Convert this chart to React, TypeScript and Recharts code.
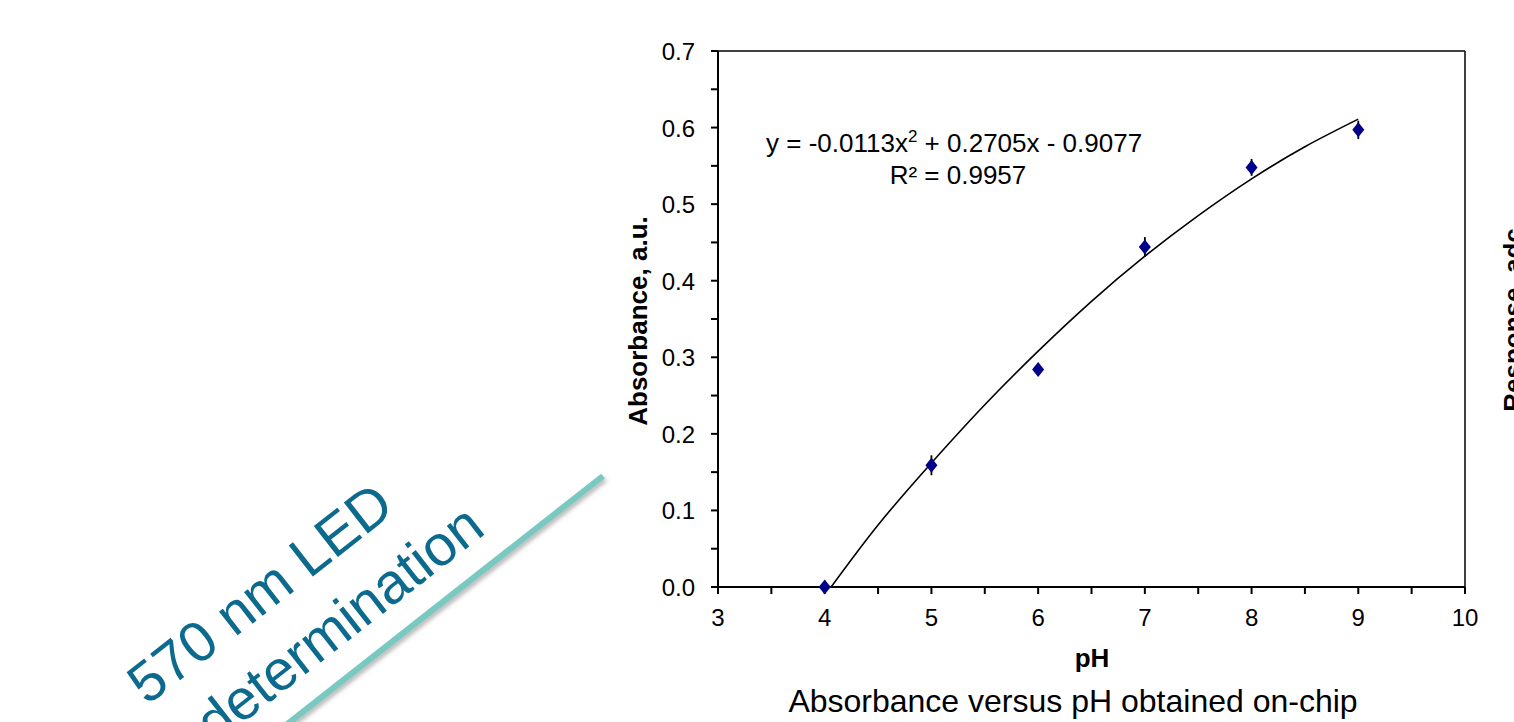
import {
  ComposedChart,
  ErrorBar,
  Line,
  ReferenceLine,
  Scatter,
  XAxis,
  YAxis,
} from "recharts";

// measured on-chip absorbance per pH, with small error bars
const phValues = [4, 5, 6, 7, 8, 9];
const absValues = [0.0, 0.159, 0.284, 0.444, 0.548, 0.597];
const absErrors = [0.0, 0.013, 0.006, 0.013, 0.011, 0.012];

// quadratic trend line as drawn on the figure
const fitPh = [4.06, 4.5, 5, 5.5, 6, 6.5, 7, 7.5, 8, 8.5, 9];
const fitAbs = [0.0, 0.081, 0.162, 0.238, 0.308, 0.373, 0.432, 0.485, 0.533, 0.575, 0.611];

const xTicks = [3, 3.5, 4, 4.5, 5, 5.5, 6, 6.5, 7, 7.5, 8, 8.5, 9, 9.5, 10];
const yTicks = [0, 0.05, 0.1, 0.15, 0.2, 0.25, 0.3, 0.35, 0.4, 0.45, 0.5, 0.55, 0.6, 0.65, 0.7];

const FONT = "'Liberation Sans', Arial, sans-serif";
const MARKER = "#00008b";
const SLIDE_BLUE = "#0b6a8e";

const points = phValues.map((ph, i) => ({ ph, abs: absValues[i], err: absErrors[i] }));
const fit = fitPh.map((ph, i) => ({ ph, fit: fitAbs[i] }));

const isWhole = (v: number, step: number) =>
  Math.abs(v / step - Math.round(v / step)) < 1e-6;

function XTick(props: any) {
  const { x, y, payload } = props;
  if (!isWhole(payload.value, 1)) return <g />;
  return (
    <text x={x} y={y + 32} textAnchor="middle" fontSize={24} fill="#000">
      {payload.value}
    </text>
  );
}

function YTick(props: any) {
  const { x, y, payload } = props;
  if (!isWhole(payload.value, 0.1)) return <g />;
  return (
    <text x={x} y={y + 9} textAnchor="end" fontSize={24} fill="#000">
      {payload.value.toFixed(1)}
    </text>
  );
}

function Diamond(props: any) {
  const { cx, cy } = props;
  if (cx == null || cy == null) return <g />;
  return (
    <polygon
      points={`${cx},${cy - 7.5} ${cx + 6},${cy} ${cx},${cy + 7.5} ${cx - 6},${cy}`}
      fill={MARKER}
    />
  );
}

export default function App() {
  return (
    <div
      style={{
        position: "absolute",
        left: 0,
        top: 0,
        width: 1514,
        height: 722,
        overflow: "hidden",
        background: "#fff",
        fontFamily: FONT,
      }}
    >
      <div style={{ position: "absolute", left: 0, top: 0 }}>
        <ComposedChart
          width={1514}
          height={722}
          margin={{ top: 51, right: 49, left: 638, bottom: 95 }}
        >
          <XAxis
            dataKey="ph"
            type="number"
            domain={[3, 10]}
            ticks={xTicks}
            interval={0}
            height={40}
            stroke="#000"
            strokeWidth={2}
            axisLine={false}
            tickSize={7}
            tickMargin={0}
            tick={<XTick />}
          />
          <YAxis
            type="number"
            domain={[0, 0.7]}
            ticks={yTicks}
            interval={0}
            width={80}
            stroke="#000"
            strokeWidth={2}
            tickSize={7}
            tickMargin={16}
            tick={<YTick />}
          />
          {/* bottom axis line drawn as a reference line so the pH 4 marker sits on top */}
          <ReferenceLine y={0} stroke="#000" strokeWidth={2} />
          <ReferenceLine y={0.7} stroke="#000" strokeWidth={1.5} />
          <ReferenceLine x={10} stroke="#000" strokeWidth={1.5} />
          <Line
            data={fit}
            dataKey="fit"
            type="natural"
            stroke="#000"
            strokeWidth={1.6}
            dot={false}
            isAnimationActive={false}
          />
          <Scatter data={points} dataKey="abs" shape={<Diamond />} isAnimationActive={false}>
            <ErrorBar
              dataKey="err"
              direction="y"
              width={0}
              stroke="#000"
              strokeWidth={1.8}
              isAnimationActive={false}
            />
          </Scatter>
        </ComposedChart>
      </div>

      <svg
        width={1514}
        height={722}
        style={{ position: "absolute", left: 0, top: 0, pointerEvents: "none" }}
        fontFamily={FONT}
      >
        <defs>
          <filter id="shadow" x="-20%" y="-20%" width="140%" height="140%">
            <feDropShadow dx="2" dy="3" stdDeviation="2" floodColor="#888" floodOpacity="0.6" />
          </filter>
        </defs>

        {/* slide decoration on the left */}
        <line x1={603} y1={476} x2={267} y2={740} stroke="#79c9c1" strokeWidth={6} filter="url(#shadow)" />
        <text x={147} y={706} fontSize={57} fill={SLIDE_BLUE} transform="rotate(-38 147 706)">
          570 nm LED
        </text>
        <text x={215} y={745} fontSize={57} fill={SLIDE_BLUE} transform="rotate(-38 215 745)">
          determination
        </text>

        {/* trend line equation */}
        <text x={766} y={152} fontSize={26} fill="#000">
          y = -0.0113x
          <tspan fontSize={17} dy={-10}>2</tspan>
          <tspan dy={10}> + 0.2705x - 0.9077</tspan>
        </text>
        <text x={958} y={184} fontSize={26} fill="#000" textAnchor="middle">
          R² = 0.9957
        </text>

        {/* axis titles */}
        <text
          x={647}
          y={321}
          fontSize={26}
          fontWeight="bold"
          textAnchor="middle"
          transform="rotate(-90 647 321)"
        >
          Absorbance, a.u.
        </text>
        <text x={1092} y={667} fontSize={26} fontWeight="bold" textAnchor="middle">
          pH
        </text>
        <text x={1073} y={712} fontSize={32} textAnchor="middle">
          Absorbance versus pH obtained on-chip
        </text>

        {/* neighbouring chart's axis title, cut by the edge as in the slide */}
        <text
          x={1522}
          y={320}
          fontSize={26}
          fontWeight="bold"
          textAnchor="middle"
          transform="rotate(-90 1522 320)"
        >
          Response, adc
        </text>
      </svg>
    </div>
  );
}
